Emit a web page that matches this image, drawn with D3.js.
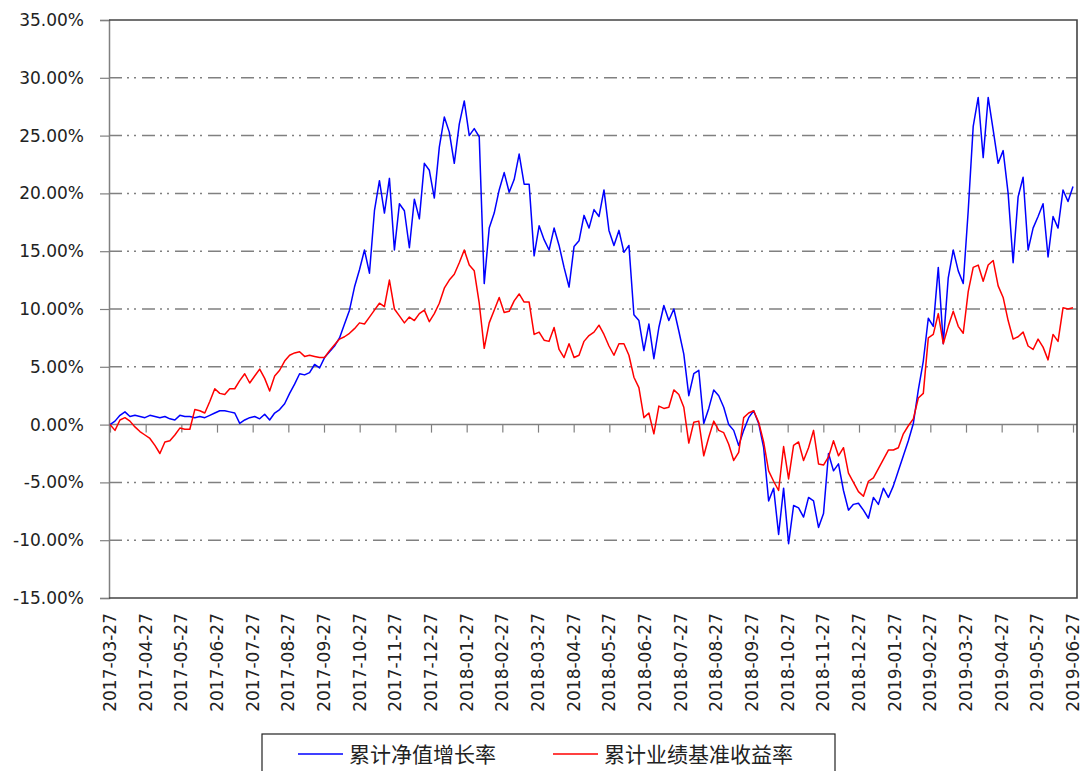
<!DOCTYPE html>
<html>
<head>
<meta charset="utf-8">
<script src="https://cdn.jsdelivr.net/npm/d3@7"></script>
<style>
  body { margin: 0; background: #fff; }
  svg { display: block; }
</style>
</head>
<body>
<div id="chart"></div>
<script>
//
// data
//
var monthLabels = ['2017-03-27', '2017-04-27', '2017-05-27', '2017-06-27', '2017-07-27', '2017-08-27', '2017-09-27',
  '2017-10-27', '2017-11-27', '2017-12-27', '2018-01-27', '2018-02-27', '2018-03-27', '2018-04-27', '2018-05-27',
  '2018-06-27', '2018-07-27', '2018-08-27', '2018-09-27', '2018-10-27', '2018-11-27', '2018-12-27', '2019-01-27',
  '2019-02-27', '2019-03-27', '2019-04-27', '2019-05-27', '2019-06-27']
var yTicks = [-15, -10, -5, 0, 5, 10, 15, 20, 25, 30, 35]
var seriesNames = ['累计净值增长率', '累计业绩基准收益率']
// cumulative NAV growth (%), evenly sampled over the period
var navGrowth = [
  0.0, 0.3, 0.8, 1.1, 0.7, 0.8, 0.7, 0.6, 0.8, 0.7,
  0.6, 0.7, 0.5, 0.4, 0.8, 0.7, 0.7, 0.6, 0.7, 0.6,
  0.8, 1.0, 1.2, 1.2, 1.1, 1.0, 0.1, 0.4, 0.6, 0.7,
  0.5, 0.9, 0.4, 1.0, 1.3, 1.8, 2.7, 3.5, 4.4, 4.3,
  4.5, 5.2, 4.9, 5.8, 6.3, 6.8, 7.5, 8.7, 9.9, 11.9,
  13.4, 15.1, 13.1, 18.5, 21.1, 18.3, 21.3, 15.1, 19.1, 18.5,
  15.3, 19.5, 17.8, 22.6, 22.0, 19.6, 24.0, 26.6, 25.3, 22.6,
  26.0, 28.0, 25.0, 25.6, 24.9, 12.2, 17.0, 18.3, 20.3, 21.8,
  20.1, 21.2, 23.4, 20.8, 20.8, 14.6, 17.2, 16.0, 15.1, 17.0,
  15.5, 13.6, 11.9, 15.4, 15.9, 18.1, 17.0, 18.6, 18.0, 20.3,
  16.8, 15.5, 16.8, 14.9, 15.5, 9.5, 9.0, 6.4, 8.7, 5.7,
  8.4, 10.3, 9.0, 10.0, 8.1, 6.1, 2.5, 4.4, 4.7, 0.1,
  1.4, 3.0, 2.5, 1.5, 0.0, -0.5, -1.8, -0.5, 0.6, 1.2,
  0.1, -2.0, -6.6, -5.5, -9.5, -5.5, -10.3, -7.0, -7.2, -8.0,
  -6.3, -6.6, -8.9, -7.7, -2.5, -4.0, -3.4, -5.7, -7.4, -6.9,
  -6.8, -7.4, -8.1, -6.3, -6.9, -5.5, -6.3, -5.3, -4.0, -2.7,
  -1.4, 0.1, 3.0, 5.5, 9.2, 8.5, 13.6, 7.0, 12.7, 15.1,
  13.3, 12.2, 18.5, 25.8, 28.3, 23.1, 28.3, 25.5, 22.6, 23.7,
  20.0, 14.0, 19.7, 21.4, 15.1, 17.0, 18.0, 19.1, 14.5, 18.0,
  17.0, 20.3, 19.3, 20.6]
// cumulative benchmark return (%)
var benchReturn = [
  0.0, -0.5, 0.4, 0.6, 0.3, -0.2, -0.6, -0.9, -1.2, -1.8,
  -2.5, -1.5, -1.4, -0.9, -0.3, -0.4, -0.4, 1.3, 1.2, 1.0,
  2.0, 3.1, 2.7, 2.6, 3.1, 3.1, 3.8, 4.4, 3.6, 4.2,
  4.8, 4.0, 2.9, 4.2, 4.7, 5.5, 6.0, 6.2, 6.3, 5.9,
  6.0, 5.9, 5.8, 5.8, 6.4, 6.9, 7.4, 7.6, 7.9, 8.3,
  8.8, 8.7, 9.3, 9.9, 10.5, 10.2, 12.5, 10.0, 9.4, 8.8,
  9.3, 9.0, 9.6, 9.9, 8.9, 9.6, 10.5, 11.8, 12.5, 13.0,
  14.0, 15.1, 13.8, 13.3, 10.5, 6.6, 8.8, 9.9, 11.0, 9.7,
  9.8, 10.7, 11.3, 10.6, 10.6, 7.8, 8.0, 7.3, 7.2, 8.4,
  6.5, 5.8, 7.0, 5.8, 6.0, 7.2, 7.7, 8.0, 8.6, 7.8,
  6.8, 6.0, 7.0, 7.0, 6.0, 4.1, 3.2, 0.6, 1.0, -0.8,
  1.6, 1.4, 1.5, 3.0, 2.6, 1.5, -1.6, 0.2, 0.3, -2.7,
  -1.1, 0.3, -0.5, -0.7, -1.7, -3.1, -2.4, 0.6, 1.0, 1.2,
  0.2, -1.5, -4.0, -4.9, -5.7, -1.9, -4.7, -1.8, -1.5, -3.1,
  -2.0, -0.5, -3.4, -3.5, -2.8, -1.4, -2.7, -2.0, -4.2, -5.0,
  -5.8, -6.2, -4.9, -4.6, -3.8, -3.0, -2.2, -2.2, -2.0, -0.8,
  -0.1, 0.5, 2.3, 2.7, 7.5, 7.8, 9.6, 7.0, 8.5, 9.8,
  8.5, 7.9, 11.5, 13.6, 13.8, 12.4, 13.8, 14.2, 12.0, 11.0,
  9.0, 7.4, 7.6, 8.0, 6.8, 6.5, 7.4, 6.7, 5.6, 7.8,
  7.2, 10.1, 10.0, 10.1]
var seriesColors = ['#0000ff', '#ff0000']

//
// layout
//
var W = 1084, H = 771
var plot = {left: 109, right: 1077, top: 20, bottom: 598}

var svg = d3.select('#chart').append('svg')
  .attr('width', W)
  .attr('height', H)

var nMonths = monthLabels.length - 1
var x = d3.scaleLinear().domain([0, nMonths]).range([110, 1073])
var y = d3.scaleLinear().domain([-15, 35]).range([plot.bottom, plot.top])

// gridlines (dash-dot-dot)
svg.append('g').selectAll('line')
  .data(yTicks.filter(function(d) { return d !== 0 && d !== 35 && d !== -15 }))
  .enter().append('line')
  .attr('x1', plot.left)
  .attr('x2', plot.right)
  .attr('y1', function(d) { return y(d) })
  .attr('y2', function(d) { return y(d) })
  .attr('stroke', '#808080')
  .attr('stroke-width', 1.5)
  .attr('stroke-dasharray', '13,5,2,5,2,6')

// y axis
var yAxis = d3.axisLeft(y)
  .tickValues(yTicks)
  .tickSize(9)
  .tickPadding(16)
  .tickFormat(function(d) { return d.toFixed(2) + '%' })
var gy = svg.append('g')
  .attr('transform', 'translate(' + plot.left + ',0)')
  .call(yAxis)
gy.select('.domain').attr('stroke', '#808080').attr('stroke-width', 1.5)
gy.selectAll('.tick line').attr('stroke', '#808080').attr('stroke-width', 1.2)
gy.selectAll('.tick text')
  .attr('fill', '#222')
  .style('font-family', 'DejaVu Sans, sans-serif')
  .style('font-size', '17px')

// zero axis with month ticks
var xAxis = d3.axisBottom(x)
  .tickValues(d3.range(monthLabels.length))
  .tickSize(8)
  .tickFormat('')
var gx = svg.append('g')
  .attr('transform', 'translate(0,' + y(0) + ')')
  .call(xAxis)
gx.select('.domain').remove()
gx.selectAll('.tick line').attr('stroke', '#808080').attr('stroke-width', 1.2)
svg.append('line')
  .attr('x1', plot.left).attr('x2', plot.right)
  .attr('y1', y(0)).attr('y2', y(0))
  .attr('stroke', '#808080')
  .attr('stroke-width', 1.5)

// month labels under the plot
svg.append('g').selectAll('text')
  .data(monthLabels)
  .enter().append('text')
  .attr('transform', function(d, i) { return 'translate(' + x(i) + ',613) rotate(-90)' })
  .attr('text-anchor', 'end')
  .attr('dy', '0.36em')
  .attr('fill', '#222')
  .style('font-family', 'DejaVu Sans, sans-serif')
  .style('font-size', '17px')
  .text(function(d) { return d })

// plot frame (top, right, bottom)
svg.append('path')
  .attr('d', 'M' + plot.left + ',' + plot.top + 'H' + plot.right + 'V' + plot.bottom + 'H' + plot.left)
  .attr('fill', 'none')
  .attr('stroke', '#444')
  .attr('stroke-width', 1.6)

// series
var line = d3.line()
  .x(function(d, i, arr) { return x(i * nMonths / (arr.length - 1)) })
  .y(function(d) { return y(d) })

;[navGrowth, benchReturn].forEach(function(s, k) {
  svg.append('path')
    .datum(s)
    .attr('d', line)
    .attr('fill', 'none')
    .attr('stroke', seriesColors[k])
    .attr('stroke-width', 1.5)
    .attr('stroke-linejoin', 'round')
})

// legend
var legend = svg.append('g')
legend.append('rect')
  .attr('x', 262).attr('y', 734)
  .attr('width', 573).attr('height', 60)
  .attr('fill', '#fff')
  .attr('stroke', '#222')
  .attr('stroke-width', 1.2)
var legendX = [298, 553]
seriesNames.forEach(function(name, k) {
  legend.append('line')
    .attr('x1', legendX[k]).attr('x2', legendX[k] + 45)
    .attr('y1', 754).attr('y2', 754)
    .attr('stroke', seriesColors[k])
    .attr('stroke-width', 1.5)
  legend.append('text')
    .attr('x', legendX[k] + 51)
    .attr('y', 754)
    .attr('dy', '0.36em')
    .attr('fill', '#222')
    .style('font-family', 'Noto Sans CJK SC, sans-serif')
    .style('font-size', '21px')
    .text(name)
})
</script>
</body>
</html>
